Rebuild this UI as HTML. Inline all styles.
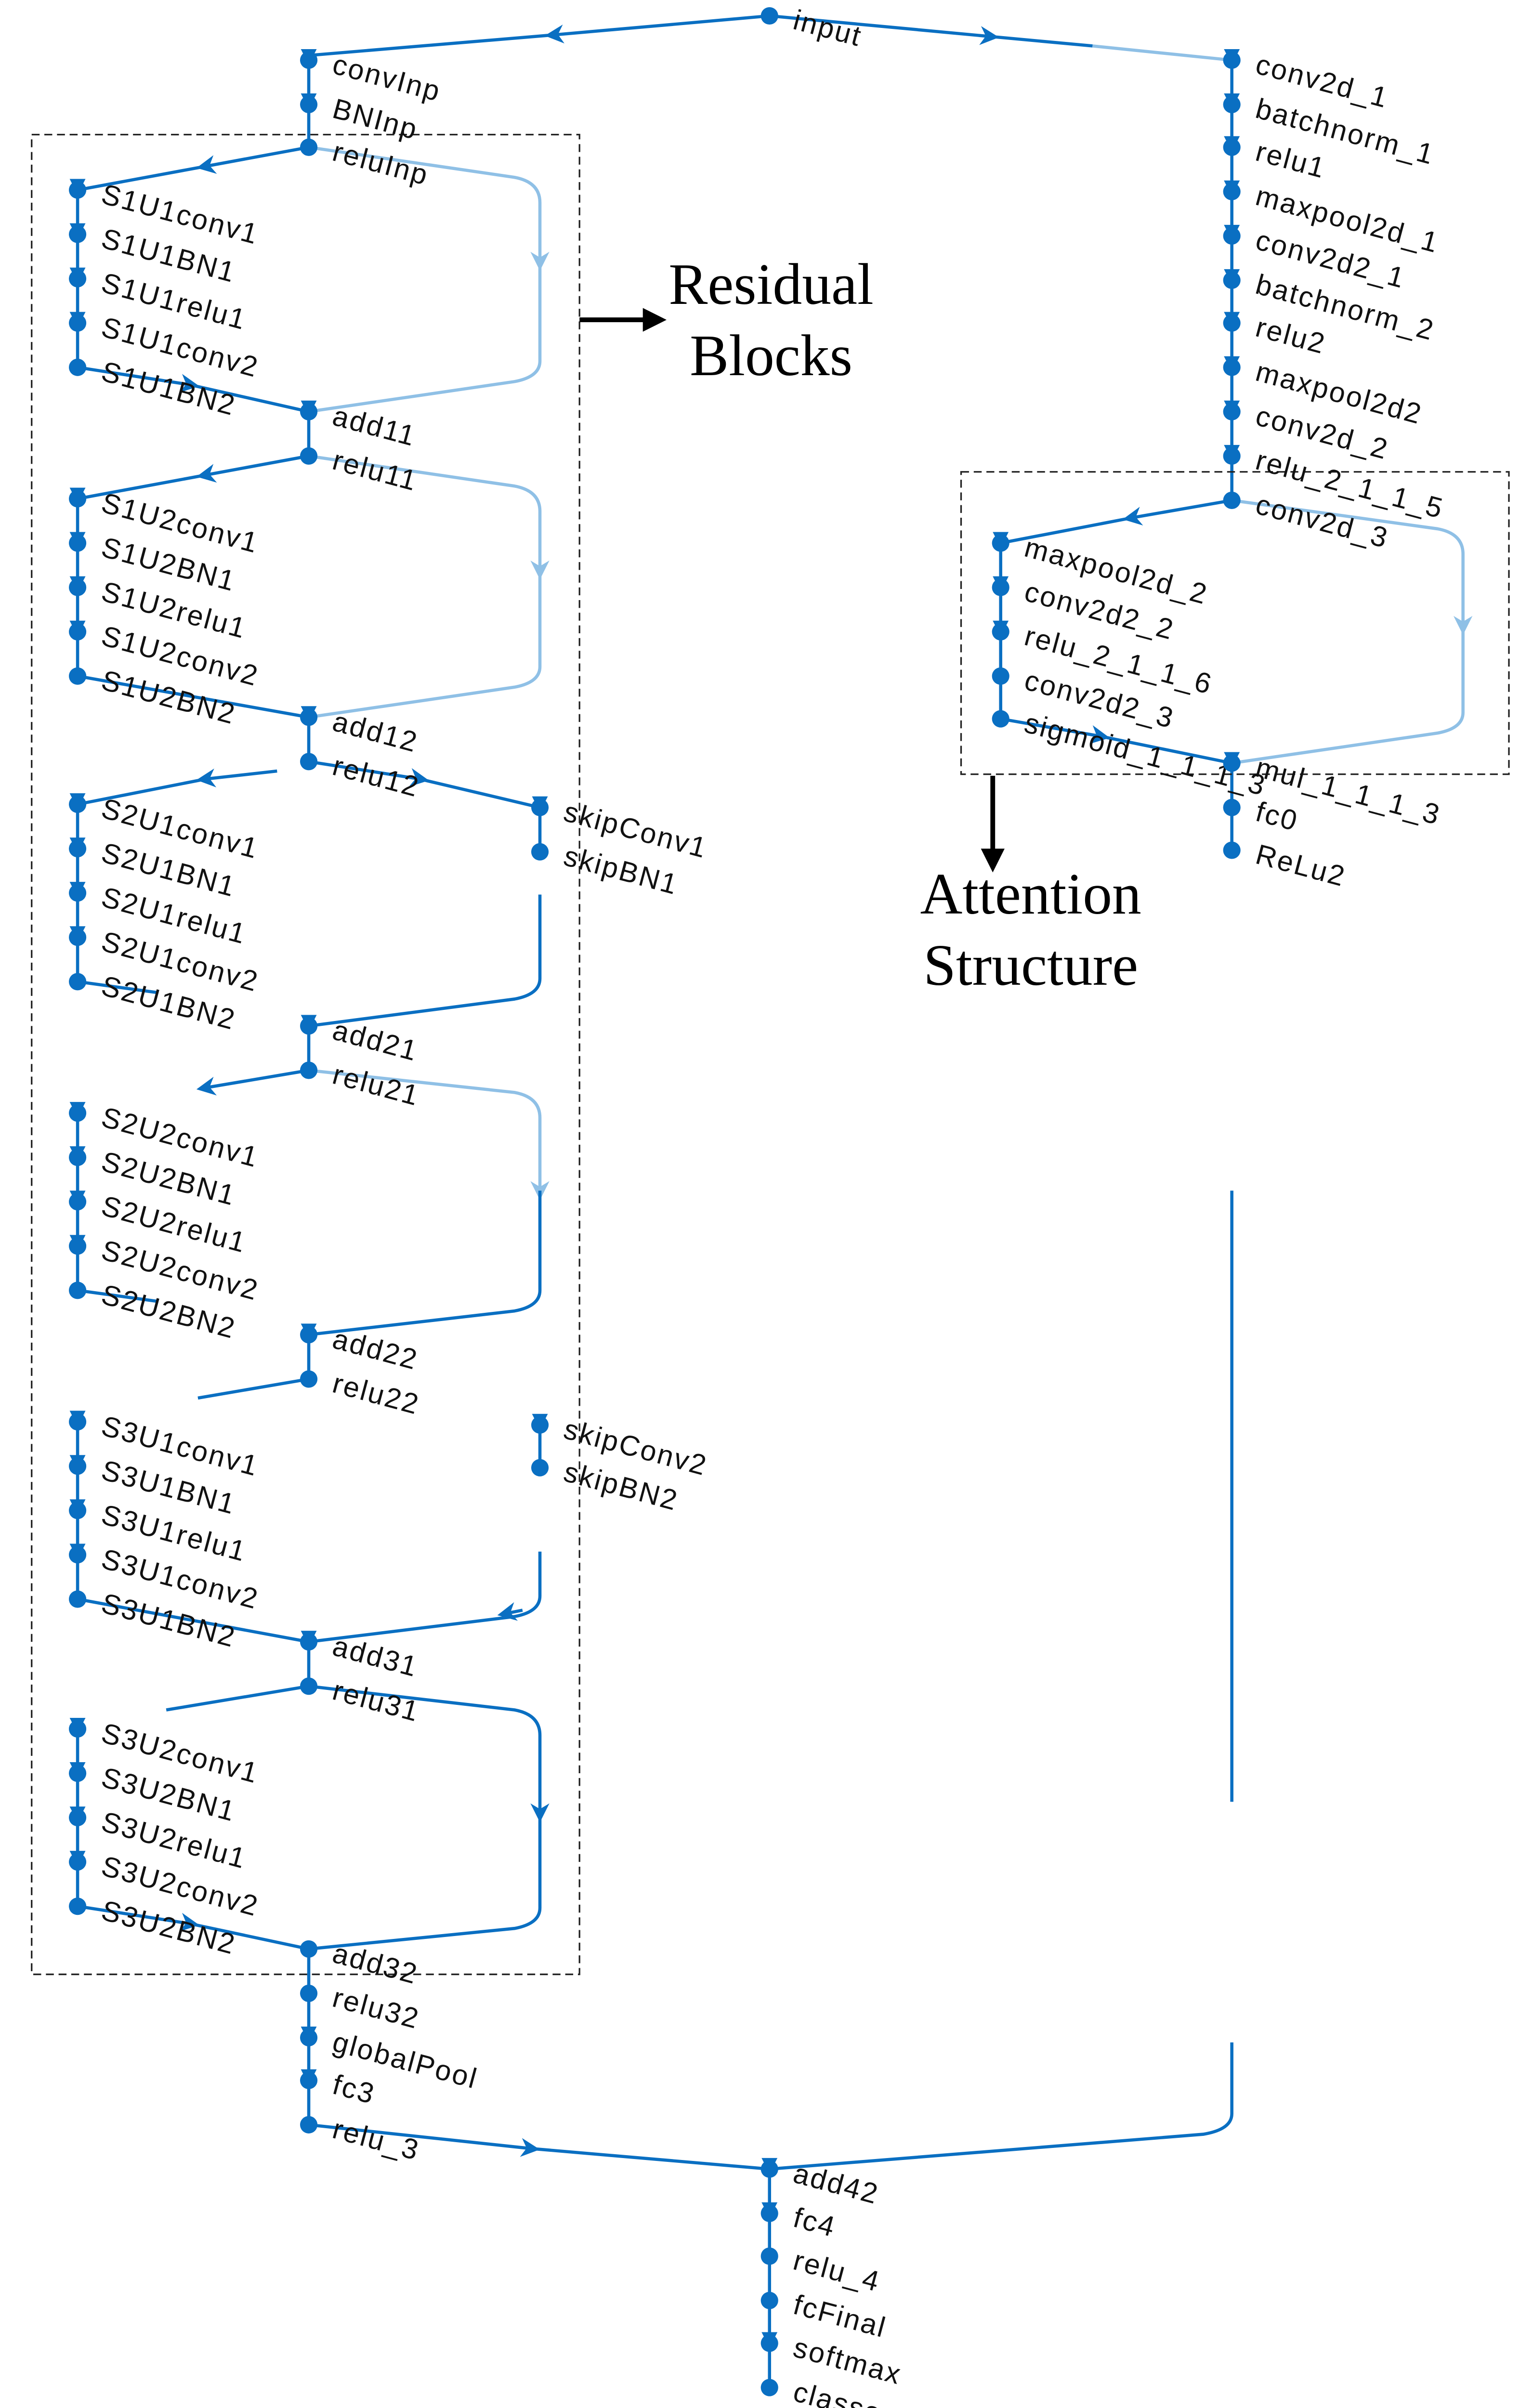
<!DOCTYPE html>
<html><head><meta charset="utf-8"><style>
html,body{margin:0;padding:0;background:#fff;width:3156px;height:5145px;overflow:hidden}
svg{display:block}
text.l{font-family:"Liberation Sans",sans-serif;font-size:18px;fill:#111;letter-spacing:1px}
text.s{font-family:"Liberation Serif",serif;font-size:37px;fill:#000}
</style></head><body>
<svg width="3156" height="5145" viewBox="0 0 960 1565" xmlns="http://www.w3.org/2000/svg">
<defs>
<marker id="a" viewBox="0 0 10 10" refX="5" refY="5" markerWidth="6" markerHeight="6" orient="auto"><path d="M0,0 L10,5 L0,10 L3,5z" fill="#0a6fc2"/></marker>
<marker id="b" viewBox="0 0 10 10" refX="5" refY="5" markerWidth="6" markerHeight="6" orient="auto"><path d="M0,0 L10,5 L0,10 L3,5z" fill="#8fc0e6"/></marker>
<marker id="k" viewBox="0 0 10 10" refX="8" refY="5" markerWidth="5" markerHeight="5" orient="auto"><path d="M0,0 L10,5 L0,10z" fill="#000"/></marker>
<g id="n"><circle cx="0" cy="0" r="5.5" fill="#0a6fc2"/></g>
<g id="p"><circle cx="0" cy="0" r="5.5" fill="#0a6fc2"/><path d="M-5,-7 L5,-7 L0,3z" fill="#0a6fc2"/></g>
</defs>
<g fill="none" stroke-width="2">
<path d="M486,10 L350,22" stroke="#0a6fc2" marker-end="url(#a)"/><path d="M350,22 L195,35" stroke="#0a6fc2"/>
<path d="M486,10 L625,23" stroke="#0a6fc2" marker-end="url(#a)"/><path d="M625,23 L690,29" stroke="#0a6fc2"/><path d="M690,29 L778,38" stroke="#8fc0e6"/>
<path d="M195,35 V93 M778,38 V316 M486,1370 V1508 M195,1231 V1342 M632,343 V454 M778,482 V537" stroke="#0a6fc2"/>
<path d="M49,120V232 M49,315V427 M49,508V620 M49,703V815 M49,898V1010 M49,1092V1204 M195,260V288 M195,453V481 M195,648V676 M195,843V871 M195,1037V1065 M341,510V538 M341,900V927" stroke="#0a6fc2"/>
<path d="M195,93 L130,105" stroke="#0a6fc2" marker-end="url(#a)"/><path d="M130,105 L49,120" stroke="#0a6fc2"/>
<path d="M195,93 L325,112 Q341,115 341,128 V165" stroke="#8fc0e6" marker-end="url(#b)"/><path d="M341,165 V228 Q341,238 325,241 L195,260" stroke="#8fc0e6"/>
<path d="M49,232 L120,243" stroke="#0a6fc2" marker-end="url(#a)"/><path d="M120,243 L195,260" stroke="#0a6fc2"/>
<path d="M195,288 L130,300" stroke="#0a6fc2" marker-end="url(#a)"/><path d="M130,300 L49,315" stroke="#0a6fc2"/>
<path d="M195,288 L325,307 Q341,310 341,323 V360" stroke="#8fc0e6" marker-end="url(#b)"/><path d="M341,360 V421 Q341,431 325,434 L195,453" stroke="#8fc0e6"/>
<path d="M49,427 L195,453" stroke="#0a6fc2"/>
<path d="M175,487 L130,492" stroke="#0a6fc2" marker-end="url(#a)"/><path d="M130,492 L49,508" stroke="#0a6fc2"/>
<path d="M195,481 L265,492" stroke="#0a6fc2" marker-end="url(#a)"/><path d="M265,492 L341,510" stroke="#0a6fc2"/>
<path d="M341,565 V618 Q341,628 325,631 L195,648" stroke="#0a6fc2"/>
<path d="M49,620 L100,627" stroke="#0a6fc2"/>
<path d="M195,676 L130,687" stroke="#0a6fc2" marker-end="url(#a)"/>
<path d="M195,676 L325,690 Q341,693 341,706 V752" stroke="#8fc0e6" marker-end="url(#b)"/><path d="M341,752 V815 Q341,825 325,828 L195,843" stroke="#0a6fc2"/>
<path d="M49,815 L100,822" stroke="#0a6fc2"/>
<path d="M195,871 L125,883" stroke="#0a6fc2"/>
<path d="M341,980 V1008 Q341,1018 325,1021 L195,1037" stroke="#0a6fc2"/><path d="M330,1017 L320,1019" stroke="#0a6fc2" marker-end="url(#a)"/>
<path d="M49,1010 L195,1037" stroke="#0a6fc2"/>
<path d="M195,1065 L105,1080" stroke="#0a6fc2"/>
<path d="M195,1065 L325,1080 Q341,1083 341,1096 V1145" stroke="#0a6fc2" marker-end="url(#a)"/><path d="M341,1145 V1205 Q341,1215 325,1218 L195,1231" stroke="#0a6fc2"/>
<path d="M49,1204 L120,1215" stroke="#0a6fc2" marker-end="url(#a)"/><path d="M120,1215 L195,1231" stroke="#0a6fc2"/>
<path d="M195,1342 L335,1357" stroke="#0a6fc2" marker-end="url(#a)"/><path d="M335,1357 L486,1370" stroke="#0a6fc2"/>
<path d="M778,752 V1138 M778,1290 V1335 Q778,1345 760,1348 L486,1370" stroke="#0a6fc2"/>
<path d="M778,316 L715,327" stroke="#0a6fc2" marker-end="url(#a)"/><path d="M715,327 L632,343" stroke="#0a6fc2"/>
<path d="M778,316 L908,334 Q924,337 924,350 V395" stroke="#8fc0e6" marker-end="url(#b)"/><path d="M924,395 V450 Q924,460 908,463 L778,482" stroke="#8fc0e6"/>
<path d="M632,454 L695,465" stroke="#0a6fc2" marker-end="url(#a)"/><path d="M695,465 L778,482" stroke="#0a6fc2"/>
<rect x="20" y="85" width="346" height="1162" stroke="#222" stroke-width="1" stroke-dasharray="5,3"/>
<rect x="607" y="298" width="346" height="191" stroke="#222" stroke-width="1" stroke-dasharray="5,3"/>
<path d="M366,202 H418" stroke="#000" stroke-width="3" marker-end="url(#k)"/>
<path d="M627,490 V548" stroke="#000" stroke-width="3" marker-end="url(#k)"/>
</g>
<use href="#n" x="486" y="10"/>
<text class="l" transform="translate(500,18) rotate(15)">input</text>
<!-- left main -->
<use href="#p" x="195" y="38"/><text class="l" transform="translate(209,46) rotate(15)">convInp</text>
<use href="#p" x="195" y="66"/><text class="l" transform="translate(209,74) rotate(15)">BNInp</text>
<use href="#n" x="195" y="93"/><text class="l" transform="translate(209,101) rotate(15)">reluInp</text>
<use href="#p" x="49" y="120"/><text class="l" transform="translate(63,128) rotate(15)">S1U1conv1</text>
<use href="#p" x="49" y="148"/><text class="l" transform="translate(63,156) rotate(15)">S1U1BN1</text>
<use href="#p" x="49" y="176"/><text class="l" transform="translate(63,184) rotate(15)">S1U1relu1</text>
<use href="#p" x="49" y="204"/><text class="l" transform="translate(63,212) rotate(15)">S1U1conv2</text>
<use href="#n" x="49" y="232"/><text class="l" transform="translate(63,240) rotate(15)">S1U1BN2</text>
<use href="#p" x="195" y="260"/><text class="l" transform="translate(209,268) rotate(15)">add11</text>
<use href="#n" x="195" y="288"/><text class="l" transform="translate(209,296) rotate(15)">relu11</text>
<use href="#p" x="49" y="315"/><text class="l" transform="translate(63,323) rotate(15)">S1U2conv1</text>
<use href="#p" x="49" y="343"/><text class="l" transform="translate(63,351) rotate(15)">S1U2BN1</text>
<use href="#p" x="49" y="371"/><text class="l" transform="translate(63,379) rotate(15)">S1U2relu1</text>
<use href="#p" x="49" y="399"/><text class="l" transform="translate(63,407) rotate(15)">S1U2conv2</text>
<use href="#n" x="49" y="427"/><text class="l" transform="translate(63,435) rotate(15)">S1U2BN2</text>
<use href="#p" x="195" y="453"/><text class="l" transform="translate(209,461) rotate(15)">add12</text>
<use href="#n" x="195" y="481"/><text class="l" transform="translate(209,489) rotate(15)">relu12</text>
<use href="#p" x="341" y="510"/><text class="l" transform="translate(355,518) rotate(15)">skipConv1</text>
<use href="#n" x="341" y="538"/><text class="l" transform="translate(355,546) rotate(15)">skipBN1</text>
<use href="#p" x="49" y="508"/><text class="l" transform="translate(63,516) rotate(15)">S2U1conv1</text>
<use href="#p" x="49" y="536"/><text class="l" transform="translate(63,544) rotate(15)">S2U1BN1</text>
<use href="#p" x="49" y="564"/><text class="l" transform="translate(63,572) rotate(15)">S2U1relu1</text>
<use href="#p" x="49" y="592"/><text class="l" transform="translate(63,600) rotate(15)">S2U1conv2</text>
<use href="#n" x="49" y="620"/><text class="l" transform="translate(63,628) rotate(15)">S2U1BN2</text>
<use href="#p" x="195" y="648"/><text class="l" transform="translate(209,656) rotate(15)">add21</text>
<use href="#n" x="195" y="676"/><text class="l" transform="translate(209,684) rotate(15)">relu21</text>
<use href="#p" x="49" y="703"/><text class="l" transform="translate(63,711) rotate(15)">S2U2conv1</text>
<use href="#p" x="49" y="731"/><text class="l" transform="translate(63,739) rotate(15)">S2U2BN1</text>
<use href="#p" x="49" y="759"/><text class="l" transform="translate(63,767) rotate(15)">S2U2relu1</text>
<use href="#p" x="49" y="787"/><text class="l" transform="translate(63,795) rotate(15)">S2U2conv2</text>
<use href="#n" x="49" y="815"/><text class="l" transform="translate(63,823) rotate(15)">S2U2BN2</text>
<use href="#p" x="195" y="843"/><text class="l" transform="translate(209,851) rotate(15)">add22</text>
<use href="#n" x="195" y="871"/><text class="l" transform="translate(209,879) rotate(15)">relu22</text>
<use href="#p" x="341" y="900"/><text class="l" transform="translate(355,908) rotate(15)">skipConv2</text>
<use href="#n" x="341" y="927"/><text class="l" transform="translate(355,935) rotate(15)">skipBN2</text>
<use href="#p" x="49" y="898"/><text class="l" transform="translate(63,906) rotate(15)">S3U1conv1</text>
<use href="#p" x="49" y="926"/><text class="l" transform="translate(63,934) rotate(15)">S3U1BN1</text>
<use href="#p" x="49" y="954"/><text class="l" transform="translate(63,962) rotate(15)">S3U1relu1</text>
<use href="#p" x="49" y="982"/><text class="l" transform="translate(63,990) rotate(15)">S3U1conv2</text>
<use href="#n" x="49" y="1010"/><text class="l" transform="translate(63,1018) rotate(15)">S3U1BN2</text>
<use href="#p" x="195" y="1037"/><text class="l" transform="translate(209,1045) rotate(15)">add31</text>
<use href="#n" x="195" y="1065"/><text class="l" transform="translate(209,1073) rotate(15)">relu31</text>
<use href="#p" x="49" y="1092"/><text class="l" transform="translate(63,1100) rotate(15)">S3U2conv1</text>
<use href="#p" x="49" y="1120"/><text class="l" transform="translate(63,1128) rotate(15)">S3U2BN1</text>
<use href="#p" x="49" y="1148"/><text class="l" transform="translate(63,1156) rotate(15)">S3U2relu1</text>
<use href="#p" x="49" y="1176"/><text class="l" transform="translate(63,1184) rotate(15)">S3U2conv2</text>
<use href="#n" x="49" y="1204"/><text class="l" transform="translate(63,1212) rotate(15)">S3U2BN2</text>
<use href="#n" x="195" y="1231"/><text class="l" transform="translate(209,1239) rotate(15)">add32</text>
<use href="#n" x="195" y="1259"/><text class="l" transform="translate(209,1267) rotate(15)">relu32</text>
<use href="#p" x="195" y="1287"/><text class="l" transform="translate(209,1295) rotate(15)">globalPool</text>
<use href="#p" x="195" y="1314"/><text class="l" transform="translate(209,1322) rotate(15)">fc3</text>
<use href="#n" x="195" y="1342"/><text class="l" transform="translate(209,1350) rotate(15)">relu_3</text>
<use href="#p" x="486" y="1370"/><text class="l" transform="translate(500,1378) rotate(15)">add42</text>
<use href="#p" x="486" y="1398"/><text class="l" transform="translate(500,1406) rotate(15)">fc4</text>
<use href="#n" x="486" y="1425"/><text class="l" transform="translate(500,1433) rotate(15)">relu_4</text>
<use href="#n" x="486" y="1453"/><text class="l" transform="translate(500,1461) rotate(15)">fcFinal</text>
<use href="#p" x="486" y="1480"/><text class="l" transform="translate(500,1488) rotate(15)">softmax</text>
<use href="#n" x="486" y="1508"/><text class="l" transform="translate(500,1516) rotate(15)">classoutput</text>
<!-- right -->
<use href="#p" x="778" y="38"/><text class="l" transform="translate(792,46) rotate(15)">conv2d_1</text>
<use href="#p" x="778" y="66"/><text class="l" transform="translate(792,74) rotate(15)">batchnorm_1</text>
<use href="#p" x="778" y="93"/><text class="l" transform="translate(792,101) rotate(15)">relu1</text>
<use href="#p" x="778" y="121"/><text class="l" transform="translate(792,129) rotate(15)">maxpool2d_1</text>
<use href="#p" x="778" y="149"/><text class="l" transform="translate(792,157) rotate(15)">conv2d2_1</text>
<use href="#p" x="778" y="177"/><text class="l" transform="translate(792,185) rotate(15)">batchnorm_2</text>
<use href="#p" x="778" y="204"/><text class="l" transform="translate(792,212) rotate(15)">relu2</text>
<use href="#p" x="778" y="232"/><text class="l" transform="translate(792,240) rotate(15)">maxpool2d2</text>
<use href="#p" x="778" y="260"/><text class="l" transform="translate(792,268) rotate(15)">conv2d_2</text>
<use href="#p" x="778" y="288"/><text class="l" transform="translate(792,296) rotate(15)">relu_2_1_1_5</text>
<use href="#n" x="778" y="316"/><text class="l" transform="translate(792,324) rotate(15)">conv2d_3</text>
<use href="#p" x="632" y="343"/><text class="l" transform="translate(646,351) rotate(15)">maxpool2d_2</text>
<use href="#p" x="632" y="371"/><text class="l" transform="translate(646,379) rotate(15)">conv2d2_2</text>
<use href="#p" x="632" y="399"/><text class="l" transform="translate(646,407) rotate(15)">relu_2_1_1_6</text>
<use href="#n" x="632" y="427"/><text class="l" transform="translate(646,435) rotate(15)">conv2d2_3</text>
<use href="#n" x="632" y="454"/><text class="l" transform="translate(646,462) rotate(15)">sigmoid_1_1_1_3</text>
<use href="#p" x="778" y="482"/><text class="l" transform="translate(792,490) rotate(15)">mul_1_1_1_3</text>
<use href="#n" x="778" y="510"/><text class="l" transform="translate(792,518) rotate(15)">fc0</text>
<use href="#n" x="778" y="537"/><text class="l" transform="translate(792,545) rotate(15)">ReLu2</text>
<text class="s" x="487" y="192" text-anchor="middle">Residual</text>
<text class="s" x="487" y="237" text-anchor="middle">Blocks</text>
<text class="s" x="651" y="577" text-anchor="middle">Attention</text>
<text class="s" x="651" y="622" text-anchor="middle">Structure</text>
</svg>
</body></html>
